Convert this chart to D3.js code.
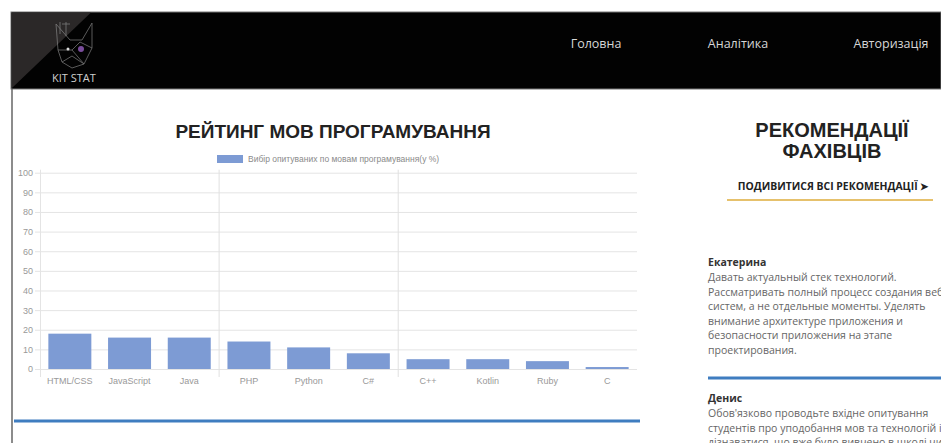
<!DOCTYPE html>
<html>
<head>
<meta charset="utf-8">
<script src="https://cdn.jsdelivr.net/npm/d3@7"></script>
<style>
  html, body { margin: 0; padding: 0; background: #fff; overflow: hidden; }
  svg { display: block; }
</style>
</head>
<body>
<div id="page"></div>
<script>
var width = 941,
	height = 443;

// chart data
var languages = ['HTML/CSS', 'JavaScript', 'Java', 'PHP', 'Python', 'C#', 'C++', 'Kotlin', 'Ruby', 'C'];
var shares = [18, 16, 16, 14, 11, 8, 5, 5, 4, 1];
var yTicks = [0, 10, 20, 30, 40, 50, 60, 70, 80, 90, 100];
var legendLabel = 'Вибір опитуваних по мовам програмування(у %)';

// page texts
var navItems = ['Головна', 'Аналітика', 'Авторизація'];
var reviewers = ['Екатерина', 'Денис'];
var reviewLines = [
	['Давать актуальный стек технологий.',
	 'Рассматривать полный процесс создания веб',
	 'систем, а не отдельные моменты. Уделять',
	 'внимание архитектуре приложения и',
	 'безопасности приложения на этапе',
	 'проектирования.'],
	['Обов\'язково проводьте вхідне опитування',
	 'студентів про уподобання мов та технологій і',
	 'дізнаватися, що вже було вивчено в школі чи',
	 'самостійно. А потім вже будувати структуру']
];

var svg = d3.select('#page').append('svg')
	.attr('width', width)
	.attr('height', height);

/*  header  */
var header = svg.append('g').classed('header', true);

header.append('rect')
	.attr('x', 11).attr('y', 12)
	.attr('width', width - 11).attr('height', 77)
	.style('fill', '#020202')
	.style('stroke', '#777')
	.style('stroke-width', 1);

header.append('path')
	.attr('d', 'M11.5,12.5L91,12.5L12,88Z')
	.style('fill', '#2b2828');

// rough logo: cat head outline
var cat = header.append('g')
	.style('fill', 'none')
	.style('stroke', '#8d8d8d')
	.style('stroke-width', 0.8)
	.style('opacity', 0.8);
cat.append('path').attr('d', 'M58,50L56,24L70,40L82,40L92,23L92,48L84,64L72,68L62,62Z');
cat.append('path').attr('d', 'M58,50L72,50L84,64M72,50L80,42L92,48M62,62L72,56L84,64');
cat.append('path').attr('d', 'M60,22L60,34M66,22L66,36M62,24L70,24');
header.append('circle')
	.attr('cx', 81).attr('cy', 49).attr('r', 3)
	.style('fill', '#7a4d9c');
header.append('circle')
	.attr('cx', 68).attr('cy', 49).attr('r', 1.5)
	.style('fill', '#ddd');

header.append('text')
	.attr('x', 52).attr('y', 82)
	.style('font-family', '"Open Sans", sans-serif')
	.style('font-size', '11px')
	.style('fill', '#cfcfcf')
	.text('KIT STAT');

header.selectAll('text.nav')
	.data(navItems)
	.enter()
	.append('text')
	.classed('nav', true)
	.attr('x', function(d, i) { return [596, 738, 891][i]; })
	.attr('y', 48)
	.attr('text-anchor', 'middle')
	.style('font-family', '"Open Sans", sans-serif')
	.style('font-size', '12.5px')
	.style('fill', '#d6d6d6')
	.text(function(d) { return d; });

// page left border
svg.append('line')
	.attr('x1', 12).attr('x2', 12)
	.attr('y1', 89).attr('y2', height)
	.style('stroke', '#666')
	.style('stroke-width', 1.5);

/*  chart  */
svg.append('text')
	.attr('x', 333).attr('y', 138)
	.attr('text-anchor', 'middle')
	.style('font-family', '"Liberation Sans", Arial, sans-serif')
	.style('font-weight', 'bold')
	.style('font-size', '19px')
	.style('fill', '#222')
	.text('РЕЙТИНГ МОВ ПРОГРАМУВАННЯ');

var x = d3.scaleBand()
	.domain(languages)
	.range([40, 637])
	.paddingInner(0.28)
	.paddingOuter(0.14);

var y = d3.scaleLinear()
	.domain([0, 100])
	.range([369, 172.7]);

var chart = svg.append('g').classed('chart', true);

// horizontal grid + y ticks
var yAxis = d3.axisLeft(y)
	.tickValues(yTicks)
	.tickSize(-(637 - 40))
	.tickPadding(7);

chart.append('g')
	.attr('transform', 'translate(40,0)')
	.call(yAxis)
	.call(function(g) {
		g.select('.domain').remove();
		g.selectAll('.tick line')
			.attr('x1', -5)
			.style('stroke', '#e4e4e4');
		g.selectAll('.tick text')
			.style('font-family', '"Liberation Sans", Arial, sans-serif')
			.style('font-size', '9px')
			.style('fill', '#999');
	});

// left axis line
chart.append('line')
	.attr('x1', 40.5).attr('x2', 40.5)
	.attr('y1', y(100) - 3).attr('y2', y(0) + 8)
	.style('stroke', '#e4e4e4');

// vertical grid lines (every third category)
var step = x.step();
chart.selectAll('line.vgrid')
	.data([3, 6])
	.enter()
	.append('line')
	.classed('vgrid', true)
	.attr('x1', function(d) { return x(languages[d]) - step * x.paddingInner() / 2; })
	.attr('x2', function(d) { return x(languages[d]) - step * x.paddingInner() / 2; })
	.attr('y1', y(100) - 3)
	.attr('y2', y(0) + 8)
	.style('stroke', '#e0e0e0');

// bars
chart.selectAll('rect.bar')
	.data(shares)
	.enter()
	.append('rect')
	.classed('bar', true)
	.attr('x', function(d, i) { return x(languages[i]); })
	.attr('y', function(d) { return y(d); })
	.attr('width', x.bandwidth())
	.attr('height', function(d) { return y(0) - y(d); })
	.style('fill', '#7d9bd4');

// x labels
var xAxis = d3.axisBottom(x)
	.tickSize(0)
	.tickPadding(9);

chart.append('g')
	.attr('transform', 'translate(0,' + y(0) + ')')
	.call(xAxis)
	.call(function(g) {
		g.select('.domain').remove();
		g.selectAll('.tick text')
			.style('font-family', '"Liberation Sans", Arial, sans-serif')
			.style('font-size', '9px')
			.style('fill', '#999');
	});

// legend
var legend = chart.append('g').classed('legend', true);
legend.append('rect')
	.attr('x', 217).attr('y', 155)
	.attr('width', 26).attr('height', 8)
	.style('fill', '#7d9bd4');
legend.append('text')
	.attr('x', 248).attr('y', 162)
	.style('font-family', '"Liberation Sans", Arial, sans-serif')
	.style('font-size', '8.5px')
	.style('fill', '#8a8a8a')
	.text(legendLabel);

// blue underline under the chart card
svg.append('line')
	.attr('x1', 14).attr('x2', 640)
	.attr('y1', 421).attr('y2', 421)
	.style('stroke', '#3f7dc0')
	.style('stroke-width', 3);

/*  recommendations  */
var side = svg.append('g').classed('side', true);

side.selectAll('text.head')
	.data(['РЕКОМЕНДАЦІЇ', 'ФАХІВЦІВ'])
	.enter()
	.append('text')
	.classed('head', true)
	.attr('x', 832)
	.attr('y', function(d, i) { return 137 + i * 21; })
	.attr('text-anchor', 'middle')
	.style('font-family', '"Liberation Sans", Arial, sans-serif')
	.style('font-weight', 'bold')
	.style('font-size', '20px')
	.style('fill', '#222')
	.text(function(d) { return d; });

side.append('text')
	.attr('x', 833).attr('y', 190)
	.attr('text-anchor', 'middle')
	.style('font-family', '"Open Sans", sans-serif')
	.style('font-weight', 'bold')
	.style('font-size', '10.4px')
	.style('fill', '#222')
	.text('ПОДИВИТИСЯ ВСІ РЕКОМЕНДАЦІЇ ➤');

side.append('line')
	.attr('x1', 727).attr('x2', 933)
	.attr('y1', 200).attr('y2', 200)
	.style('stroke', '#e6c16c')
	.style('stroke-width', 2);

var blockTop = [262, 398];

reviewers.forEach(function(name, k) {
	side.append('text')
		.attr('x', 708).attr('y', blockTop[k] + 4)
		.style('font-family', '"Open Sans", sans-serif')
		.style('font-weight', 'bold')
		.style('font-size', '10.5px')
		.style('fill', '#333')
		.text(name);

	side.selectAll('text.line' + k)
		.data(reviewLines[k])
		.enter()
		.append('text')
		.classed('line' + k, true)
		.attr('x', 708)
		.attr('y', function(d, i) { return blockTop[k] + 19 + i * 14.5; })
		.style('font-family', '"Open Sans", sans-serif')
		.style('font-size', '10.5px')
		.style('fill', '#666')
		.text(function(d) { return d; });
});

side.append('line')
	.attr('x1', 708).attr('x2', width)
	.attr('y1', 378).attr('y2', 378)
	.style('stroke', '#3f7dc0')
	.style('stroke-width', 3);
</script>
</body>
</html>
